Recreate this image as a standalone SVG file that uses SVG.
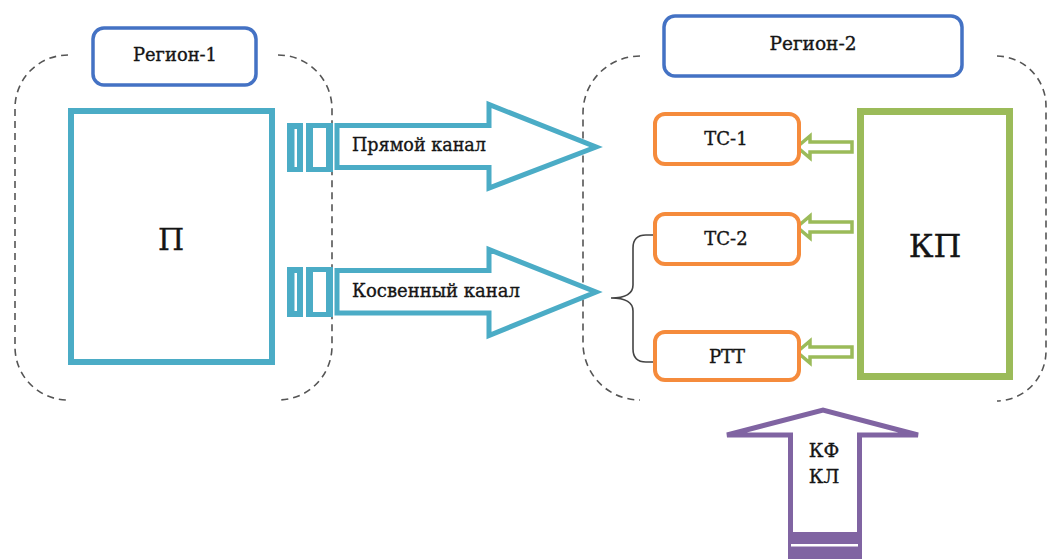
<svg xmlns="http://www.w3.org/2000/svg" width="1048" height="559" viewBox="0 0 1048 559">
  <style>
    .lbl { font-family: 'DejaVu Serif', 'Liberation Serif', serif; fill: #151515; stroke: #151515; stroke-width: 0.35; text-anchor: middle; }
    .start { text-anchor: start; }
    .region { fill: none; stroke: #555; stroke-width: 1.6; stroke-dasharray: 7 5; }
    .title { fill: #fff; stroke: #4472C4; stroke-width: 3.5; }
    .teal { fill: #fff; stroke: #4BACC6; stroke-width: 5; stroke-linejoin: miter; }
    .tealfill { fill: #4BACC6; }
    .ts { fill: #fff; stroke: #F58B3C; stroke-width: 4; }
    .gr { fill: #fff; stroke: #9BBB59; stroke-width: 3.5; }
    .brace { fill: none; stroke: #444; stroke-width: 1.6; }
  </style>

  <!-- Region outlines (dashed brackets) -->
  <g id="region-1-frame">
    <path class="region" d="M68,55 A53,53 0 0 0 15,108 V347 A53,53 0 0 0 68,400"/>
    <path class="region" d="M278,55 A54,54 0 0 1 332,109 V346 A54,54 0 0 1 278,400"/>
  </g>
  <g id="region-2-frame">
    <path class="region" d="M640,56 A57,57 0 0 0 583,113 V343 A57,57 0 0 0 640,400"/>
    <path class="region" d="M997,56 A50,50 0 0 1 1046,106 V352 A50,50 0 0 1 997,401"/>
  </g>

  <!-- Region titles -->
  <g id="region-1-title">
    <rect class="title" x="93" y="28" width="163" height="57" rx="11"/>
    <text class="lbl" x="175" y="61" font-size="18" textLength="84" lengthAdjust="spacingAndGlyphs">Регион-1</text>
  </g>
  <g id="region-2-title">
    <rect class="title" x="664" y="16" width="298" height="60" rx="11"/>
    <text class="lbl" x="813" y="50" font-size="18" textLength="87" lengthAdjust="spacingAndGlyphs">Регион-2</text>
  </g>

  <!-- Source block П -->
  <g id="node-p">
    <rect x="71" y="111" width="201" height="251" fill="#fff" stroke="#4BACC6" stroke-width="6"/>
    <text class="lbl" x="171" y="250" font-size="30">П</text>
  </g>

  <!-- Channels: connector plugs and wide arrows -->
  <g id="connectors">
    <g id="channel-direct">
      <rect class="tealfill" x="287" y="123" width="16" height="49"/>
      <rect fill="#fff" x="294.5" y="129" width="2.5" height="38"/>
      <rect class="tealfill" x="306" y="123" width="27" height="49"/>
      <rect fill="#fff" x="313" y="128" width="13" height="39"/>
      <polygon class="teal" points="337,125.5 489,125.5 489,104.5 596,147 489,188 489,167.5 337,167.5"/>
      <text class="lbl start" x="352" y="151" font-size="19" textLength="134" lengthAdjust="spacingAndGlyphs">Прямой канал</text>
    </g>
    <g id="channel-indirect">
      <rect class="tealfill" x="287" y="267" width="16" height="50"/>
      <rect fill="#fff" x="294.5" y="273" width="2.5" height="38"/>
      <rect class="tealfill" x="306" y="267" width="27" height="50"/>
      <rect fill="#fff" x="313" y="272" width="13" height="40"/>
      <polygon class="teal" points="337,270.5 489,270.5 489,249.5 596,292 489,335.5 489,313 337,313"/>
      <text class="lbl start" x="352" y="297" font-size="19" textLength="168" lengthAdjust="spacingAndGlyphs">Косвенный канал</text>
    </g>

    <!-- brace grouping ТС-2 and РТТ -->
    <path class="brace" d="M653,235 H646 Q633,235 633,248 V285 Q633,298 611,298 Q633,298 633,311 V349 Q633,362 646,362 H655"/>

    <!-- КП to test objects -->
    <polygon class="gr" points="797,147 810,136 810,142 852,142 852,152 810,152 810,158"/>
    <polygon class="gr" points="797,227 810,216 810,222 852,222 852,232 810,232 810,238"/>
    <polygon class="gr" points="797,352 810,341 810,347 852,347 852,357 810,357 810,363"/>

    <!-- incoming КФ / КЛ arrow -->
    <g id="arrow-kf">
      <polygon points="790.5,570 790.5,435 727,435 823,410 918,435 859.5,435 859.5,570" fill="#fff" stroke="#8064A2" stroke-width="5"/>
      <rect x="788" y="532" width="74" height="30" fill="#8064A2"/>
      <rect x="791" y="544" width="67" height="2.5" fill="#fff"/>
      <text class="lbl" x="824" y="457" font-size="19">КФ</text>
      <text class="lbl" x="824" y="483" font-size="19">КЛ</text>
    </g>
  </g>

  <!-- Test objects -->
  <g id="node-ts1">
    <rect class="ts" x="655" y="114" width="144" height="50" rx="10"/>
    <text class="lbl" x="726" y="145" font-size="18">ТС-1</text>
  </g>
  <g id="node-ts2">
    <rect class="ts" x="655" y="214" width="144" height="50" rx="10"/>
    <text class="lbl" x="726" y="245" font-size="18">ТС-2</text>
  </g>
  <g id="node-rtt">
    <rect class="ts" x="655" y="332" width="144" height="48" rx="10"/>
    <text class="lbl" x="727" y="363" font-size="18">РТТ</text>
  </g>

  <!-- Control point КП -->
  <g id="node-kp">
    <rect x="860.5" y="111.5" width="149" height="265" fill="#fff" stroke="#9BBB59" stroke-width="7"/>
    <text class="lbl" x="935" y="257" font-size="32">КП</text>
  </g>
</svg>
